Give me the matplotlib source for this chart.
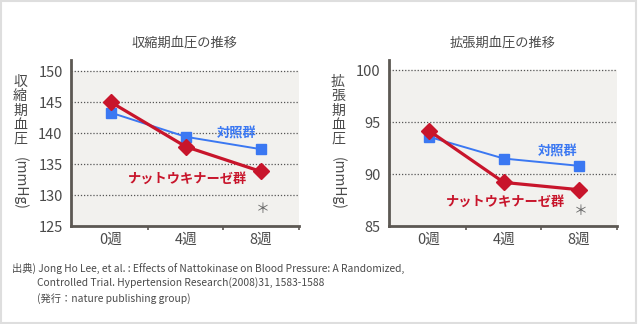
# Blood pressure trends: nattokinase group vs control group
import numpy as np
import matplotlib.pyplot as plt
from matplotlib.patches import Rectangle

plt.rcParams['font.family'] = ['Noto Sans CJK JP', 'DejaVu Sans']

weeks = ['0週', '4週', '8週']

# systolic (mmHg)
sys_control = [143.3, 139.4, 137.4]
sys_natto = [145.0, 137.8, 133.8]

# diastolic (mmHg)
dia_control = [93.6, 91.5, 90.8]
dia_natto = [94.2, 89.2, 88.5]

BLUE = '#3b78f2'
RED = '#c8152b'
AXCOL = '#5c5853'
TXT = '#4a4a4a'
BAND = '#f2f1ee'

fig = plt.figure(figsize=(6.38, 3.24), dpi=100)
fig.patch.set_facecolor('white')
fig.patches.append(Rectangle((0.0015, 0.003), 0.9955, 0.9925, transform=fig.transFigure,
                             fill=False, ec='#dedede', lw=1.5))

W, H = 638, 324


def px_axes(x0, y0, x1, y1):
    return fig.add_axes([x0 / W, 1 - y1 / H, (x1 - x0) / W, (y1 - y0) / H])


def panel(ax, control, natto, ymin, ytop, yticks, title, ctrl_pos, natto_pos, star_pos):
    ax.set_facecolor('white')
    ax.axhspan(ymin, yticks[-1], color=BAND, zorder=0)
    for y in yticks[1:]:
        ax.axhline(y, color='#555555', lw=0.9, ls=(0, (1, 1.5)), zorder=1)
    x = np.arange(len(weeks))
    ax.plot(x, control, color=BLUE, lw=1.4, marker='s', ms=6.5, zorder=3)
    ax.plot(x, natto, color=RED, lw=2.3, marker='D', ms=8.5, zorder=4)
    ax.set_xlim(-0.53, 2.5)
    ax.set_ylim(ymin, ytop)
    ax.set_yticks(yticks)
    ax.set_yticklabels([str(v) for v in yticks], fontsize=10.5, color=TXT)
    ax.set_xticks(x)
    ax.set_xticklabels(weeks, fontsize=10.5, color=TXT)
    ax.set_xticks([0.5, 1.5, 2.5], minor=True)
    ax.tick_params(axis='y', length=0, pad=6)
    ax.tick_params(axis='x', which='major', length=0, pad=5)
    ax.tick_params(axis='x', which='minor', length=3, width=1.2, color=AXCOL)
    for s in ['top', 'right']:
        ax.spines[s].set_visible(False)
    for s in ['left', 'bottom']:
        ax.spines[s].set_color(AXCOL)
        ax.spines[s].set_linewidth(2)
    ax.set_title(title, fontsize=9.5, color=TXT, pad=10)
    ax.text(*ctrl_pos, '対照群', color=BLUE, fontsize=9.5, weight='bold',
            ha='center', va='center')
    ax.text(*natto_pos, 'ナットウキナーゼ群', color=RED, fontsize=9.5, weight='bold',
            ha='center', va='center')
    ax.text(*star_pos, '＊', color='#666666', fontsize=10, ha='center', va='center')


ax1 = px_axes(71, 60, 298.5, 226)
panel(ax1, sys_control, sys_natto, 125, 151.8, [125, 130, 135, 140, 145, 150],
      '収縮期血圧の推移', (1.68, 140.0), (1.02, 132.7), (2.02, 127.8))

ax2 = px_axes(389, 60, 616.5, 226)
panel(ax2, dia_control, dia_natto, 85, 101.0, [85, 90, 95, 100],
      '拡張期血圧の推移', (1.72, 92.2), (1.02, 87.35), (2.02, 86.4))

# vertical axis labels
for xl, lab in [(20, '収縮期血圧'), (338, '拡張期血圧')]:
    fig.text(xl / W, 1 - 75 / H, '\n'.join(lab), fontsize=10, color=TXT,
             ha='center', va='top', linespacing=1.02)
    fig.text(xl / W, 1 - 183 / H, '(mmHg)', fontsize=10, color=TXT,
             ha='center', va='center', rotation=-90)

# source note
fig.text(12 / W, 1 - 268 / H, '出典) Jong Ho Lee, et al. : Effects of Nattokinase on Blood Pressure: A Randomized,',
         fontsize=7.4, color=TXT, va='center')
fig.text(37 / W, 1 - 283 / H, 'Controlled Trial. Hypertension Research(2008)31, 1583-1588',
         fontsize=7.4, color=TXT, va='center')
fig.text(37 / W, 1 - 299 / H, '(発行：nature publishing group)',
         fontsize=7.4, color=TXT, va='center')

fig.savefig('out.png', dpi=100)
